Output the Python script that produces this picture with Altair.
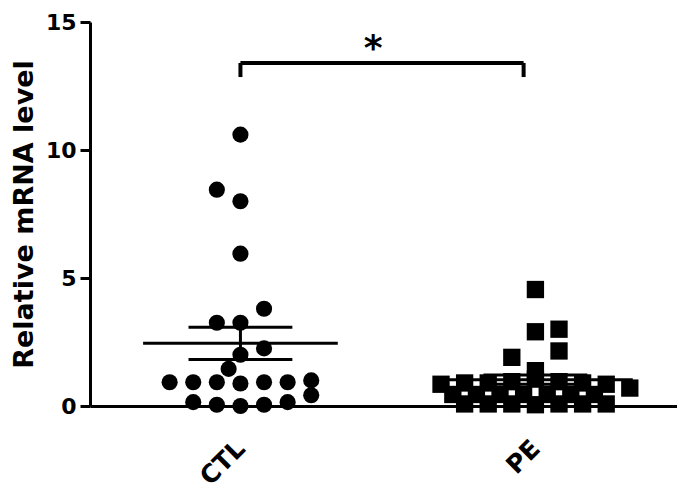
import altair as alt
import pandas as pd

# ---- data ----
groups = ["CTL", "PE"]
group_pos = [1, 2]

ctl_values = [10.6, 8.45, 8.0, 5.95, 3.8, 3.25, 3.25, 2.25, 2.0, 1.45,
              0.93, 0.93, 0.93, 0.88, 0.93, 0.93, 1.0, 0.42,
              0.15, 0.05, 0.0, 0.05, 0.15]
ctl_slots = [0, -1, 0, 0, 1, -1, 0, 1, 0, -0.5,
             -3, -2, -1, 0, 1, 2, 3, 3,
             -2, -1, 0, 1, 2]

pe_values = [4.55, 3.0, 2.9, 2.15, 1.9, 1.38, 1.05,
             0.85, 0.9, 0.9, 0.95, 0.95, 0.9, 0.85, 0.7,
             0.45, 0.45, 0.45, 0.45, 0.45, 0.45, 0.45,
             0.08, 0.08, 0.08, 0.05, 0.08, 0.08, 0.08]
pe_slots = [0, 1, 0, 1, -1, 0, 0,
            -4, -3, -2, -1, 1, 2, 3, 4,
            -3.5, -2.5, -1.5, -0.5, 0.5, 1.5, 2.5,
            -3, -2, -1, 0, 1, 2, 3]

means = [2.45, 1.03]
sems = [0.63, 0.18]

sig_label = "*"
y_title = "Relative mRNA level"

# ---- build tables ----
SLOT = 0.08
pts = pd.DataFrame({
    "group": ["CTL"] * len(ctl_values) + ["PE"] * len(pe_values),
    "value": ctl_values + pe_values,
    "x": [1 + s * SLOT for s in ctl_slots] + [2 + s * SLOT for s in pe_slots],
})

stats = pd.DataFrame({"group": groups, "pos": group_pos, "mean": means, "sem": sems})
stats["lo"] = stats["mean"] - stats["sem"]
stats["hi"] = stats["mean"] + stats["sem"]
stats["mx1"] = stats["pos"] - 0.33
stats["mx2"] = stats["pos"] + 0.33
stats["cx1"] = stats["pos"] - 0.176
stats["cx2"] = stats["pos"] + 0.176

FONT = "DejaVu Sans"
xscale = alt.Scale(domain=[0.49, 2.48], nice=False, zero=False)
yscale = alt.Scale(domain=[0, 15], nice=False)

xaxis = alt.Axis(values=group_pos, labelExpr="datum.value == 1 ? 'CTL' : 'PE'",
                 title=None, grid=False, labelAngle=-45, labelAlign="right",
                 labelBaseline="middle", labelPadding=33, tickSize=5, tickWidth=3,
                 domainWidth=3, domainColor="black", tickColor="black",
                 labelFont=FONT, labelFontWeight="bold", labelFontSize=25,
                 labelColor="black")
yaxis = alt.Axis(values=[0, 5, 10, 15], title=y_title, grid=False, tickSize=10,
                 tickWidth=3, domainWidth=3, domainColor="black", tickColor="black",
                 labelFont=FONT, labelFontWeight="bold", labelFontSize=22,
                 labelColor="black", labelPadding=4, titleFont=FONT,
                 titleFontWeight="bold", titleFontSize=27, titleColor="black",
                 titlePadding=7)

base_pts = alt.Chart(pts)
ctl_pts = base_pts.transform_filter(alt.datum.group == "CTL").mark_point(
    shape="circle", filled=True, color="black", size=260, opacity=1
).encode(x=alt.X("x:Q", scale=xscale, axis=xaxis), y=alt.Y("value:Q", scale=yscale, axis=yaxis))
pe_pts = base_pts.transform_filter(alt.datum.group == "PE").mark_point(
    shape="square", filled=True, color="black", size=300, opacity=1
).encode(x=alt.X("x:Q", scale=xscale), y=alt.Y("value:Q", scale=yscale))

sb = alt.Chart(stats)
mean_line = sb.mark_rule(color="black", strokeWidth=3).encode(
    x=alt.X("mx1:Q", scale=xscale), x2="mx2:Q", y=alt.Y("mean:Q", scale=yscale))
cap_hi = sb.mark_rule(color="black", strokeWidth=3).encode(
    x=alt.X("cx1:Q", scale=xscale), x2="cx2:Q", y=alt.Y("hi:Q", scale=yscale))
cap_lo = sb.mark_rule(color="black", strokeWidth=3).encode(
    x=alt.X("cx1:Q", scale=xscale), x2="cx2:Q", y=alt.Y("lo:Q", scale=yscale))
stem = sb.mark_rule(color="black", strokeWidth=3).encode(
    x=alt.X("pos:Q", scale=xscale), y=alt.Y("lo:Q", scale=yscale), y2="hi:Q")

# significance bracket
br = pd.DataFrame({"x1": [1.0], "x2": [1.96], "ytop": [13.4], "ybot": [12.85]})
brc = alt.Chart(br)
br_h = brc.mark_rule(color="black", strokeWidth=4).encode(
    x=alt.X("x1:Q", scale=xscale), x2="x2:Q", y=alt.Y("ytop:Q", scale=yscale))
br_l = brc.mark_rule(color="black", strokeWidth=4).encode(
    x=alt.X("x1:Q", scale=xscale), y=alt.Y("ytop:Q", scale=yscale), y2="ybot:Q")
br_r = brc.mark_rule(color="black", strokeWidth=4).encode(
    x=alt.X("x2:Q", scale=xscale), y=alt.Y("ytop:Q", scale=yscale), y2="ybot:Q")
star_df = pd.DataFrame({"x": [1.45], "y": [13.5], "t": [sig_label]})
star = alt.Chart(star_df).mark_text(font=FONT, fontWeight="bold", fontSize=36,
                                    baseline="alphabetic", align="center", color="black").encode(
    x=alt.X("x:Q", scale=xscale), y=alt.Y("y:Q", scale=yscale), text="t:N")

chart = alt.layer(ctl_pts, pe_pts, mean_line, cap_hi, cap_lo, stem,
                  br_h, br_l, br_r, star).properties(
    width=587, height=384,
    autosize=alt.AutoSizeParams(type="none"),
    padding={"left": 82, "top": 14, "right": 0, "bottom": 86},
    background="white",
).configure_view(stroke=None)

chart.save("out.html", embed_options={"renderer": "svg", "actions": False})
